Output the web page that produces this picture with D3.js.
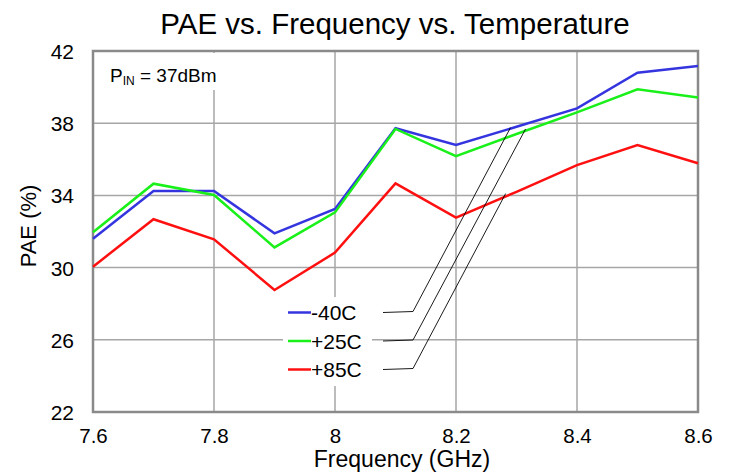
<!DOCTYPE html>
<html><head><meta charset="utf-8">
<script src="https://cdn.jsdelivr.net/npm/d3@7"></script>
<style>body{margin:0;background:#fff}svg{display:block;font-family:"Liberation Sans",Arial,sans-serif}</style>
</head><body>
<svg id="c" width="733" height="472"></svg>
<script>
const freqs = [7.6,7.7,7.8,7.9,8.0,8.1,8.2,8.3,8.4,8.5,8.6];
const seriesNames = ["-40C","+25C","+85C"];
const seriesColors = ["#3535e0","#19f019","#ff1010"];
const pae_m40 = [31.6,34.24,34.24,31.9,33.25,37.72,36.79,37.8,38.82,40.8,41.17];
const pae_p25 = [31.96,34.65,34.02,31.12,33.06,37.68,36.18,37.4,38.6,39.88,39.43];
const pae_p85 = [30.05,32.68,31.57,28.76,30.83,34.67,32.77,34.2,35.68,36.79,35.78];
const xTicks = [7.6,7.8,8.0,8.2,8.4,8.6];
const xTickLabels = ["7.6","7.8","8","8.2","8.4","8.6"];
const yTicks = [22,26,30,34,38,42];
// point on each curve where its annotation leader line ends
const leaderAt = [[8.29,37.75],[8.315,37.68],[8.282,34.1]];

const series = [pae_m40, pae_p25, pae_p85];
const svg = d3.select("#c");
const L=93, R=698, T=51, B=412;
const x = d3.scaleLinear().domain([7.6,8.6]).range([L,R]);
const y = d3.scaleLinear().domain([22,42]).range([B,T]);

// grid
const g = svg.append("g");
g.selectAll(".vg").data(xTicks).enter().append("line")
  .attr("x1",d=>x(d)).attr("x2",d=>x(d)).attr("y1",T).attr("y2",B)
  .attr("stroke","#a6a6a6").attr("stroke-width",1.5);
g.selectAll(".hg").data(yTicks).enter().append("line")
  .attr("x1",L).attr("x2",R).attr("y1",d=>y(d)).attr("y2",d=>y(d))
  .attr("stroke","#a6a6a6").attr("stroke-width",1.5);

// white boxes (label & legend backgrounds)
svg.append("rect").attr("x",100).attr("y",53).attr("width",122).attr("height",37).attr("fill","#fff");
svg.append("rect").attr("x",283).attr("y",297).attr("width",89).attr("height",89).attr("fill","#fff");

// border
svg.append("rect").attr("x",L).attr("y",T).attr("width",R-L).attr("height",B-T)
  .attr("fill","none").attr("stroke","#8a8a8a").attr("stroke-width",2.5);

// axes (tick labels only)
const xAxis = d3.axisBottom(x).tickValues(xTicks).tickSize(0).tickPadding(0)
  .tickFormat((d,i)=>xTickLabels[i]);
const xa = svg.append("g").attr("transform",`translate(0,${B})`).call(xAxis);
xa.select(".domain").remove();
xa.selectAll("text").attr("font-size",20.5).attr("fill","#000")
  .attr("font-family","Liberation Sans, Arial, sans-serif").attr("dy",0).attr("y",31);

const yAxis = d3.axisLeft(y).tickValues(yTicks).tickSize(0).tickPadding(0);
const ya = svg.append("g").attr("transform",`translate(${L-19},0)`).call(yAxis);
ya.select(".domain").remove();
ya.selectAll("text").attr("font-size",21).attr("fill","#000")
  .attr("font-family","Liberation Sans, Arial, sans-serif").attr("dy","0.36em");

// lines
const line = d3.line().x((d,i)=>x(freqs[i])).y(d=>y(d));
[0,1,2].forEach(k=>{
  svg.append("path").datum(series[k]).attr("d",line).attr("fill","none")
    .attr("stroke",seriesColors[k]).attr("stroke-width",2.5).attr("stroke-linejoin","miter");
});

// legend
const legY = [312.5,341,369.5];
seriesNames.forEach((n,k)=>{
  svg.append("line").attr("x1",288).attr("x2",311).attr("y1",legY[k]).attr("y2",legY[k])
    .attr("stroke",seriesColors[k]).attr("stroke-width",2.5);
  svg.append("text").attr("x",311).attr("y",legY[k]+7.5).attr("font-size",21).text(n);
  svg.append("polyline")
    .attr("points",`383,${legY[k]} 413,${legY[k]-1} ${x(leaderAt[k][0])},${y(leaderAt[k][1])}`)
    .attr("fill","none").attr("stroke","#000").attr("stroke-width",0.9);
});

// P_IN label
const pt = svg.append("text").attr("x",110).attr("y",81.5).attr("font-size",19);
pt.append("tspan").text("P");
pt.append("tspan").attr("font-size",12).attr("dy",3).text("IN");
pt.append("tspan").attr("dy",-3).text(" = 37dBm");

// titles
svg.append("text").attr("x",395).attr("y",34).attr("text-anchor","middle").attr("font-size",29.5)
  .text("PAE vs. Frequency vs. Temperature");
svg.append("text").attr("x",402).attr("y",467).attr("text-anchor","middle").attr("font-size",23)
  .text("Frequency (GHz)");
svg.append("text").attr("transform","translate(36,226) rotate(-90)").attr("text-anchor","middle")
  .attr("font-size",22).text("PAE (%)");
</script>
</body></html>
